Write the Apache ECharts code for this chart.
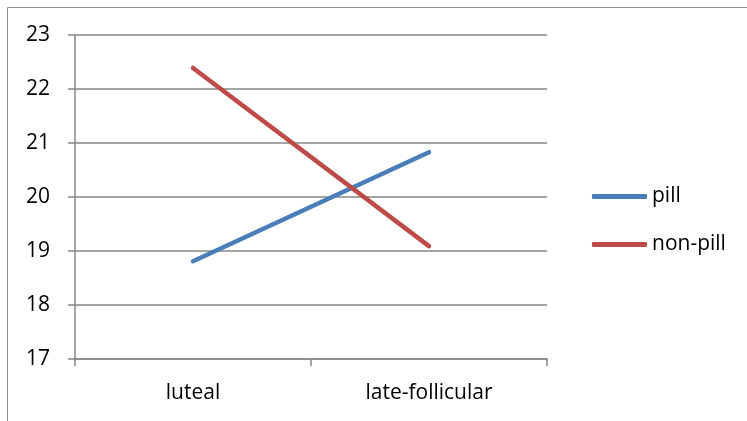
<!DOCTYPE html>
<html><head><meta charset="utf-8">
<script src="https://cdn.jsdelivr.net/npm/echarts@6/dist/echarts.min.js"></script>
<style>html,body{margin:0;padding:0;background:#fff}#c{width:747px;height:421px}</style>
</head><body><div id="c"></div>
<script>
const categories = ['luteal', 'late-follicular'];
const pill = [18.81, 20.83];
const nonPill = [22.39, 19.09];
const yTicks = [17, 18, 19, 20, 21, 22, 23];

const font = '"Open Sans", "Liberation Sans", sans-serif';
const fs = 21;
const chart = echarts.init(document.getElementById('c'), null, {renderer: 'canvas'});
chart.setOption({
  animation: false,
  backgroundColor: '#fff',
  graphic: [{
    type: 'rect', silent: true,
    shape: {x: 7.5, y: 7.5, width: 800, height: 500},
    style: {fill: 'none', stroke: '#8c8c8c', lineWidth: 1}
  }],
  grid: {left: 75, right: 200, top: 35, bottom: 62, containLabel: false},
  legend: {
    orient: 'vertical', left: 587, top: 181,
    itemWidth: 55, itemHeight: 5, itemGap: 27,
    icon: 'roundRect',
    textStyle: {fontFamily: font, fontSize: fs, color: '#000', lineHeight: 21},
    data: ['pill', 'non-pill']
  },
  xAxis: {
    type: 'category', data: categories, boundaryGap: true,
    axisLine: {lineStyle: {color: '#868686', width: 1.5}},
    axisTick: {show: true, length: 7, lineStyle: {color: '#868686', width: 1.5}},
    axisLabel: {fontFamily: font, fontSize: fs, color: '#000', margin: 24}
  },
  yAxis: {
    type: 'value', min: yTicks[0], max: yTicks[yTicks.length - 1], interval: 1,
    axisLine: {show: true, lineStyle: {color: '#868686', width: 1.5}},
    axisTick: {show: true, length: 7, lineStyle: {color: '#868686', width: 1.5}},
    splitLine: {show: true, lineStyle: {color: '#868686', width: 1.5}},
    axisLabel: {fontFamily: font, fontSize: fs, color: '#000', margin: 25}
  },
  series: [
    {name: 'pill', type: 'line', data: pill, showSymbol: false, symbol: 'none',
     lineStyle: {color: '#4A7EBB', width: 4.5, cap: 'round'}, itemStyle: {color: '#4A7EBB'}},
    {name: 'non-pill', type: 'line', data: nonPill, showSymbol: false, symbol: 'none',
     lineStyle: {color: '#BE4B48', width: 4.5, cap: 'round'}, itemStyle: {color: '#BE4B48'}}
  ]
});
</script></body></html>
